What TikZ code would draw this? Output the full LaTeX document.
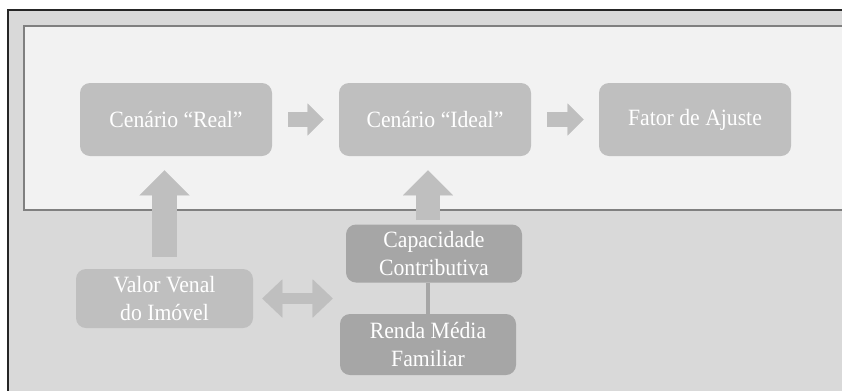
\documentclass[tikz,border=0pt]{standalone}
\usepackage{fontspec}
\setmainfont[FakeStretch=0.93]{Liberation Serif}
\usepackage{tikz}
\usetikzlibrary{positioning}
\usetikzlibrary{arrows.meta}
\definecolor{fundo}{HTML}{D9D9D9}
\definecolor{painel}{HTML}{F2F2F2}
\definecolor{caixa}{HTML}{BFBFBF}
\definecolor{caixaesc}{HTML}{A6A6A6}

\begin{document}
\begin{tikzpicture}[x=0.75pt,y=-0.75pt,
    etapa/.style={fill=caixa, rounded corners=7.5pt, text=white, inner sep=0pt,
        minimum width=144pt, minimum height=54.75pt, align=center,
        font=\fontsize{17.5}{20.5}\selectfont},
    base/.style={etapa, minimum width=132.75pt, minimum height=44.25pt},
    renda/.style={etapa, fill=caixaesc, minimum width=132pt, minimum height=43.5pt},
    seta/.style={draw=caixa, line width=11.25pt,
        -{Triangle[length=12pt,width=24pt,line width=0.01pt]},
        shorten <=12pt, shorten >=11.25pt},
    setacima/.style={draw=caixa, line width=18.5pt,
        -{Triangle[length=18.75pt,width=37.5pt,line width=0.01pt]},
        shorten >=10.5pt},
    setadupla/.style={draw=caixa, line width=8.25pt,
        {Triangle[length=15pt,width=28.5pt,line width=0.01pt]}-{Triangle[length=15pt,width=28.5pt,line width=0.01pt]},
        shorten <=6.75pt, shorten >=5.25pt},
    ligacao/.style={draw=caixaesc, line width=3.5pt}]
    \useasboundingbox (0,0) rectangle (842,390);
    \clip (0,0) rectangle (842,390);
    % fundo e painel superior
    \draw[fill=fundo, draw=black!85, line width=1pt] (8,10) rectangle (870,420);
    \draw[fill=painel, draw=black!50, line width=1.1pt] (24,26) rectangle (870,210);

    \node[etapa] (real) at (176,119.5) {Cenário “Real”};
    \node[etapa] (ideal) at (435,119.5) {Cenário “Ideal”};
    \node[etapa] (ajuste) at (695,119.5) {Fator de Ajuste};

    \node[base] (venal) at (164.5,298.5) {Valor Venal\\do Imóvel};
    \node[renda] (capac) at (434,253.5) {Capacidade\\Contributiva};
    \node[renda, minimum height=45.75pt] (media) at (428,344.5) {Renda Média\\Familiar};

    \draw[seta] (real) -- (ideal);
    \draw[seta] (ideal) -- (ajuste);
    \draw[setacima, shorten <=9pt] (venal.north) -- (venal.north |- real.south);
    \draw[setacima, shorten <=3pt] (capac.north -| media.north) -- (media.north |- ideal.south);
    \draw[setadupla] (venal.east) -- (venal.east -| media.west);
    \draw[ligacao] (media.north) -- (media.north |- capac.south);
\end{tikzpicture}
\end{document}
